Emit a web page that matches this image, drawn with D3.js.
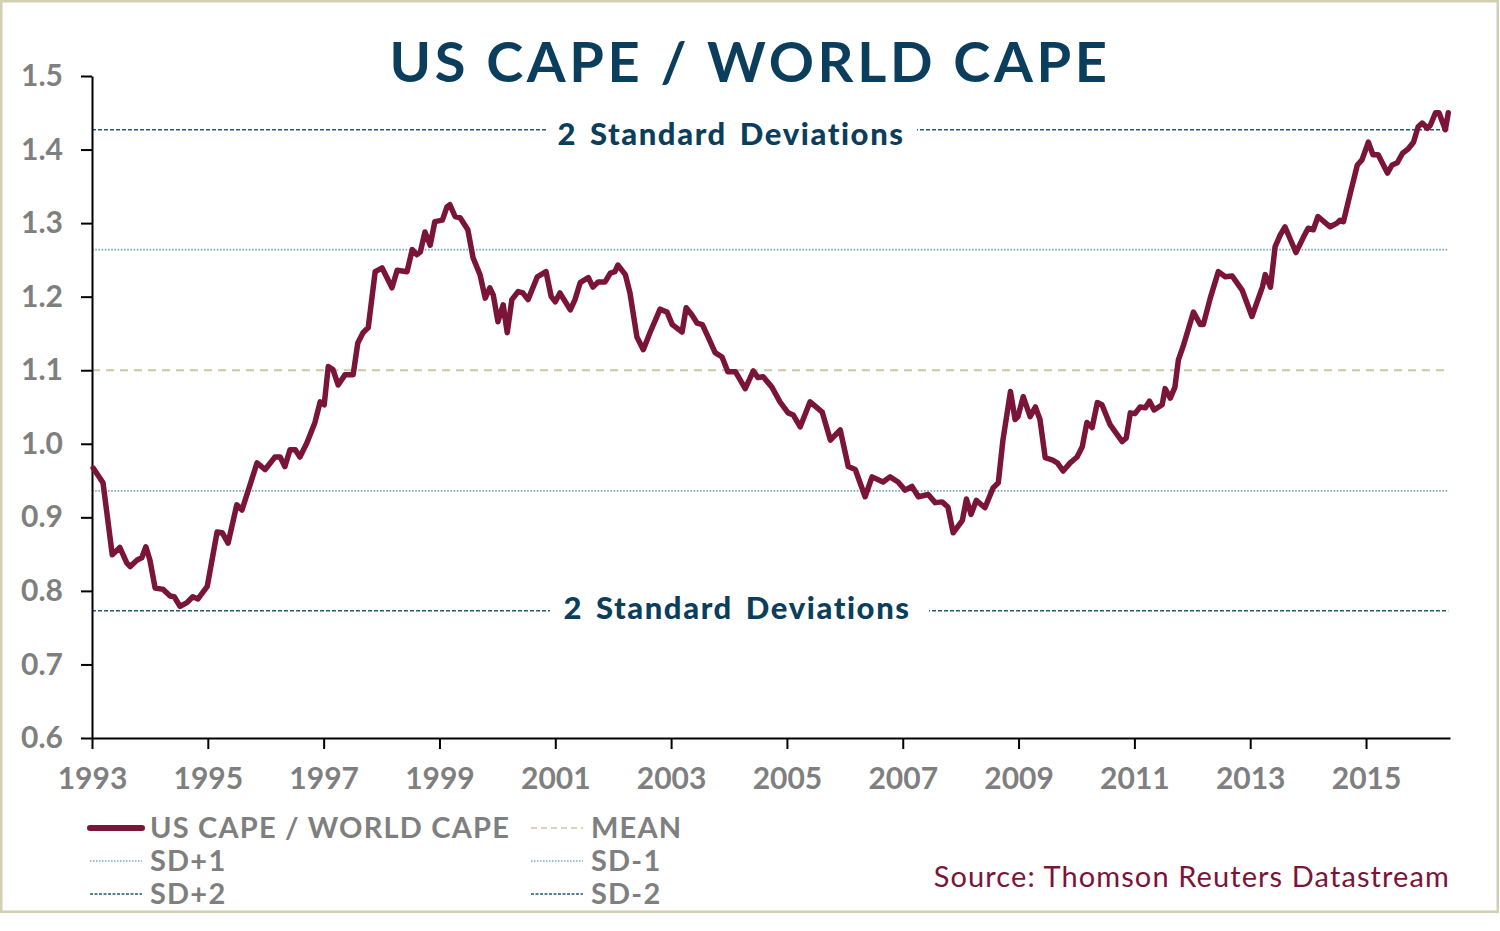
<!DOCTYPE html>
<html>
<head>
<meta charset="utf-8">
<script src="https://cdn.jsdelivr.net/npm/d3@7"></script>
<style>
  html, body { margin: 0; padding: 0; background: #fff; }
  svg { display: block; font-family: Lato, "Open Sans", sans-serif; }
</style>
</head>
<body>
<svg width="1500" height="931"></svg>
<script>
// readings: decimal year and US CAPE / World CAPE ratio
var dates = [
  1993.02, 1993.19, 1993.35, 1993.48, 1993.60, 1993.66, 1993.78, 1993.86, 1993.93, 1994.00,
  1994.09, 1994.23, 1994.35, 1994.42, 1994.52, 1994.64, 1994.74, 1994.83, 1994.99, 1995.16,
  1995.25, 1995.35, 1995.50, 1995.59, 1995.85, 1995.99, 1996.16, 1996.25, 1996.33, 1996.42,
  1996.51, 1996.59, 1996.71, 1996.85, 1996.94, 1997.01, 1997.08, 1997.16, 1997.25, 1997.37,
  1997.51, 1997.59, 1997.68, 1997.77, 1997.89, 1998.01, 1998.18, 1998.27, 1998.44, 1998.53,
  1998.61, 1998.67, 1998.75, 1998.84, 1998.92, 1999.05, 1999.13, 1999.18, 1999.27, 1999.36,
  1999.49, 1999.58, 1999.70, 1999.79, 1999.87, 1999.93, 2000.01, 2000.10, 2000.17, 2000.25,
  2000.36, 2000.44, 2000.53, 2000.69, 2000.84, 2000.93, 2001.00, 2001.08, 2001.26, 2001.34,
  2001.43, 2001.57, 2001.65, 2001.74, 2001.86, 2001.95, 2002.03, 2002.08, 2002.21, 2002.29,
  2002.41, 2002.52, 2002.64, 2002.81, 2002.93, 2003.02, 2003.19, 2003.26, 2003.36, 2003.45,
  2003.54, 2003.64, 2003.76, 2003.88, 2003.98, 2004.11, 2004.28, 2004.42, 2004.50, 2004.59,
  2004.74, 2004.88, 2005.02, 2005.11, 2005.23, 2005.40, 2005.61, 2005.75, 2005.92, 2006.06,
  2006.18, 2006.35, 2006.47, 2006.66, 2006.78, 2006.92, 2007.04, 2007.16, 2007.27, 2007.44,
  2007.56, 2007.68, 2007.78, 2007.87, 2008.03, 2008.10, 2008.18, 2008.27, 2008.42, 2008.56,
  2008.65, 2008.73, 2008.86, 2008.94, 2008.99, 2009.08, 2009.20, 2009.29, 2009.37, 2009.46,
  2009.58, 2009.67, 2009.77, 2009.89, 2010.01, 2010.10, 2010.18, 2010.27, 2010.36, 2010.44,
  2010.58, 2010.79, 2010.86, 2010.93, 2011.01, 2011.10, 2011.19, 2011.26, 2011.34, 2011.48,
  2011.53, 2011.62, 2011.70, 2011.76, 2011.84, 2012.02, 2012.14, 2012.19, 2012.31, 2012.45,
  2012.57, 2012.69, 2012.86, 2013.03, 2013.21, 2013.26, 2013.35, 2013.43, 2013.52, 2013.60,
  2013.79, 2013.92, 2014.00, 2014.09, 2014.17, 2014.38, 2014.50, 2014.55, 2014.61, 2014.73,
  2014.85, 2014.93, 2015.04, 2015.12, 2015.21, 2015.37, 2015.45, 2015.54, 2015.63, 2015.73,
  2015.82, 2015.90, 2015.97, 2016.06, 2016.11, 2016.20, 2016.26, 2016.37, 2016.42
];
var ratio = [
  0.967, 0.947, 0.849, 0.859, 0.838, 0.833, 0.842, 0.845, 0.860, 0.842,
  0.804, 0.802, 0.793, 0.792, 0.779, 0.784, 0.792, 0.789, 0.806, 0.880,
  0.879, 0.865, 0.917, 0.910, 0.974, 0.965, 0.982, 0.982, 0.969, 0.992,
  0.992, 0.982, 1.001, 1.029, 1.057, 1.053, 1.105, 1.101, 1.080, 1.094,
  1.094, 1.137, 1.151, 1.158, 1.234, 1.239, 1.212, 1.236, 1.234, 1.264,
  1.257, 1.261, 1.288, 1.270, 1.302, 1.304, 1.322, 1.325, 1.309, 1.307,
  1.291, 1.253, 1.230, 1.198, 1.212, 1.202, 1.166, 1.189, 1.151, 1.196,
  1.207, 1.205, 1.196, 1.227, 1.234, 1.200, 1.193, 1.205, 1.182, 1.196,
  1.219, 1.226, 1.213, 1.220, 1.220, 1.232, 1.234, 1.243, 1.230, 1.205,
  1.145, 1.128, 1.152, 1.183, 1.179, 1.162, 1.152, 1.185, 1.175, 1.164,
  1.162, 1.145, 1.124, 1.118, 1.098, 1.098, 1.075, 1.099, 1.090, 1.091,
  1.077, 1.057, 1.042, 1.039, 1.023, 1.057, 1.043, 1.005, 1.019, 0.969,
  0.965, 0.928, 0.955, 0.948, 0.955, 0.948, 0.937, 0.942, 0.928, 0.931,
  0.920, 0.921, 0.914, 0.879, 0.896, 0.925, 0.904, 0.923, 0.913, 0.940,
  0.947, 1.005, 1.071, 1.033, 1.037, 1.064, 1.037, 1.050, 1.033, 0.981,
  0.978, 0.974, 0.963, 0.974, 0.982, 0.996, 1.029, 1.022, 1.056, 1.053,
  1.026, 1.003, 1.008, 1.042, 1.041, 1.050, 1.049, 1.058, 1.046, 1.053,
  1.075, 1.062, 1.077, 1.114, 1.132, 1.179, 1.162, 1.162, 1.198, 1.234,
  1.227, 1.228, 1.209, 1.173, 1.213, 1.230, 1.213, 1.268, 1.284, 1.295,
  1.260, 1.281, 1.293, 1.291, 1.309, 1.295, 1.300, 1.304, 1.302, 1.341,
  1.379, 1.386, 1.410, 1.393, 1.393, 1.368, 1.379, 1.382, 1.395, 1.401,
  1.410, 1.431, 1.436, 1.429, 1.433, 1.450, 1.450, 1.427, 1.450
];

// reference levels: mean and +/- 1, 2 standard deviations
var refNames = ["SD+2", "SD+1", "MEAN", "SD-1", "SD-2"];
var refLevels = [1.427, 1.264, 1.100, 0.936, 0.773];

var yTicks = [0.6, 0.7, 0.8, 0.9, 1.0, 1.1, 1.2, 1.3, 1.4, 1.5];
var xTicks = [1993, 1995, 1997, 1999, 2001, 2003, 2005, 2007, 2009, 2011, 2013, 2015];

var svg = d3.select("svg");
var margins = { top: 76, bottom: 193, left: 92, right: 50 };
var svgWidth = +svg.attr("width");
var svgHeight = +svg.attr("height");

var maroon = "#7b1439";
var grey = "#7f7f7f";
var navy = "#0b3d5c";

var refStyle = {
  "SD+2": { color: "#235877", dash: "4,2", width: 1.6 },
  "SD-2": { color: "#235877", dash: "4,2", width: 1.6 },
  "SD+1": { color: "#7ea8c4", dash: "1.6,1.6", width: 1.6 },
  "SD-1": { color: "#7ea8c4", dash: "1.6,1.6", width: 1.6 },
  "MEAN": { color: "#cbc7a3", dash: "8,6", width: 2 }
};

// frame
svg.append("rect")
  .attr("x", 1.25).attr("y", 1.25)
  .attr("width", 1496.5).attr("height", 910.5)
  .attr("fill", "#fff")
  .attr("stroke", "#d3cfb3")
  .attr("stroke-width", 2.5);

var xScale = d3.scaleLinear().domain([1993, 2016.45]).range([margins.left, svgWidth - margins.right]);
var yScale = d3.scaleLinear().domain([0.6, 1.5]).range([svgHeight - margins.bottom, margins.top]);

// reference lines
var refData = refNames.map(function (n, i) { return { name: n, value: refLevels[i] }; });
svg.append("g").selectAll("line").data(refData).enter().append("line")
  .attr("x1", xScale(1993))
  .attr("x2", xScale(dates[dates.length - 1]))
  .attr("y1", function (d) { return yScale(d.value); })
  .attr("y2", function (d) { return yScale(d.value); })
  .attr("stroke", function (d) { return refStyle[d.name].color; })
  .attr("stroke-width", function (d) { return refStyle[d.name].width; })
  .attr("stroke-dasharray", function (d) { return refStyle[d.name].dash; });

// "2 Standard Deviations" labels over the outer bands
var bandLabels = [
  { value: refLevels[0], cx: 731, dy: 4, x0: 546, x1: 917 },
  { value: refLevels[4], cx: 737, dy: -3, x0: 550, x1: 929 }
];
var bl = svg.append("g").selectAll("g").data(bandLabels).enter().append("g");
bl.append("rect")
  .attr("x", function (d) { return d.x0; })
  .attr("width", function (d) { return d.x1 - d.x0; })
  .attr("y", function (d) { return yScale(d.value) - 18; })
  .attr("height", 36)
  .attr("fill", "#fff");
bl.append("text")
  .attr("x", function (d) { return d.cx; })
  .attr("y", function (d) { return yScale(d.value) + d.dy; })
  .attr("dy", "0.36em")
  .attr("text-anchor", "middle")
  .attr("font-size", 31)
  .attr("font-weight", 900)
  .attr("letter-spacing", 1.6)
  .attr("word-spacing", 4)
  .attr("fill", navy)
  .text("2 Standard Deviations");

// axes
var yAxis = svg.append("g")
  .attr("transform", `translate(${margins.left},0)`)
  .call(d3.axisLeft(yScale).tickValues(yTicks).tickFormat(d3.format(".1f"))
    .tickSize(11).tickSizeOuter(0).tickPadding(18));

var xAxis = svg.append("g")
  .attr("transform", `translate(0,${svgHeight - margins.bottom})`)
  .call(d3.axisBottom(xScale).tickValues(xTicks).tickFormat(d3.format("d"))
    .tickSize(11).tickSizeOuter(0).tickPadding(19));

[yAxis, xAxis].forEach(function (ax) {
  ax.select(".domain").attr("stroke", "#000").attr("stroke-width", 2);
  ax.selectAll(".tick line").attr("stroke", "#000").attr("stroke-width", 2);
  ax.selectAll(".tick text")
    .attr("fill", grey)
    .attr("font-family", "Lato, sans-serif")
    .attr("font-weight", 700);
});
yAxis.selectAll(".tick text").attr("font-size", 30);
xAxis.selectAll(".tick text").attr("font-size", 30);

// series line
var line = d3.line()
  .x(function (d, i) { return xScale(dates[i]); })
  .y(function (d) { return yScale(d); });

svg.append("path")
  .datum(ratio)
  .attr("fill", "none")
  .attr("stroke", maroon)
  .attr("stroke-width", 5.5)
  .attr("stroke-linejoin", "round")
  .attr("stroke-linecap", "round")
  .attr("d", line);

// title
svg.append("text")
  .attr("x", 750).attr("y", 82)
  .attr("text-anchor", "middle")
  .attr("font-size", 56)
  .attr("font-weight", 700)
  .attr("letter-spacing", 3.6)
  .attr("fill", navy)
  .text("US CAPE / WORLD CAPE");

// legend
var legendItems = [
  { label: "US CAPE / WORLD CAPE", col: 0, row: 0, color: maroon, dash: null, width: 6 },
  { label: "MEAN", col: 1, row: 0, color: refStyle["MEAN"].color, dash: "6,4", width: 1.5 },
  { label: "SD+1", col: 0, row: 1, color: refStyle["SD+1"].color, dash: "1.5,1.5", width: 1.5 },
  { label: "SD-1", col: 1, row: 1, color: refStyle["SD-1"].color, dash: "1.5,1.5", width: 1.5 },
  { label: "SD+2", col: 0, row: 2, color: refStyle["SD+2"].color, dash: "3,1.5", width: 1.5 },
  { label: "SD-2", col: 1, row: 2, color: refStyle["SD-2"].color, dash: "3,1.5", width: 1.5 }
];
var colX = [90, 531];
var rowY = [828, 861, 894];

var leg = svg.append("g").selectAll("g").data(legendItems).enter().append("g")
  .attr("transform", function (d) { return `translate(${colX[d.col]},${rowY[d.row]})`; });
leg.append("line")
  .attr("x1", 0).attr("x2", 52)
  .attr("stroke", function (d) { return d.color; })
  .attr("stroke-width", function (d) { return d.width; })
  .attr("stroke-linecap", function (d) { return d.dash ? "butt" : "round"; })
  .attr("stroke-dasharray", function (d) { return d.dash; });
leg.append("text")
  .attr("x", 60)
  .attr("dy", "0.36em")
  .attr("font-size", 29)
  .attr("font-weight", 700)
  .attr("letter-spacing", 1.2)
  .attr("fill", grey)
  .text(function (d) { return d.label; });

// source
svg.append("text")
  .attr("x", 1450).attr("y", 887)
  .attr("text-anchor", "end")
  .attr("font-size", 29)
  .attr("letter-spacing", 1.1)
  .attr("fill", maroon)
  .text("Source: Thomson Reuters Datastream");
</script>
</body>
</html>
